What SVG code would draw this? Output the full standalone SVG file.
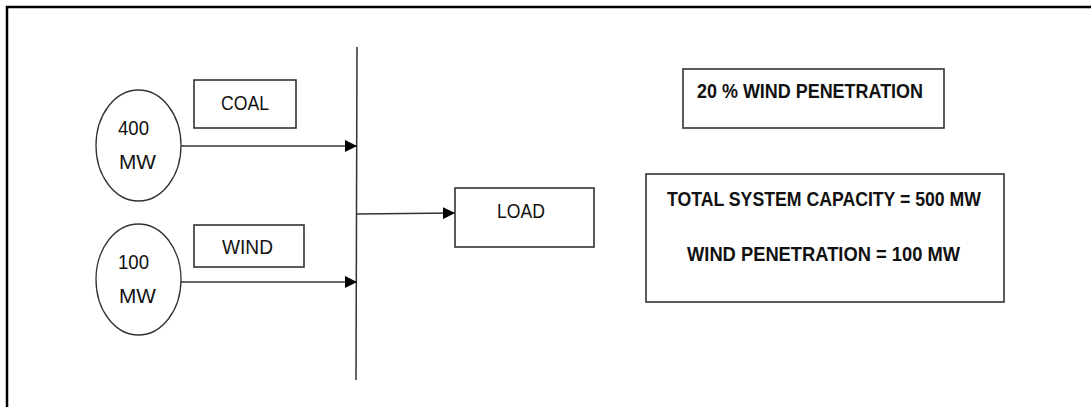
<svg xmlns="http://www.w3.org/2000/svg" width="1091" height="407" viewBox="0 0 1091 407">
<style>
.frame{fill:none;stroke:#000;stroke-width:2.5}
.box{fill:#fff;stroke:#333;stroke-width:1.6}
.circ{fill:#fff;stroke:#333;stroke-width:1.3}
.line{fill:none;stroke:#333;stroke-width:1.5}
.t{font-family:"Liberation Sans",Arial,sans-serif;font-size:20px;fill:#111}
.b{font-family:"Liberation Sans",Arial,sans-serif;font-size:20px;font-weight:bold;fill:#111}
</style>
<defs>
<marker id="arr" viewBox="0 0 10 10" refX="10" refY="5" markerWidth="12" markerHeight="12" markerUnits="userSpaceOnUse" orient="auto">
<path d="M0,0 L10,5 L0,10 z" fill="#000"/>
</marker>
</defs>
<rect width="1091" height="407" fill="#fff"/>
<path class="frame" d="M7,407 V7 H1091"/>
<g id="connectors">
<line class="line" x1="357" y1="47" x2="356" y2="380"/>
<line class="line" x1="181" y1="146" x2="357" y2="146" marker-end="url(#arr)"/>
<line class="line" x1="181" y1="282" x2="357" y2="282" marker-end="url(#arr)"/>
<line class="line" x1="357" y1="214" x2="455" y2="213" marker-end="url(#arr)"/>
</g>
<g id="gen400">
<ellipse class="circ" cx="138.5" cy="145.5" rx="42.5" ry="55.5"/>
<text class="t" x="118" y="135" textLength="31" lengthAdjust="spacingAndGlyphs">400</text>
<text class="t" x="119" y="169" textLength="37" lengthAdjust="spacingAndGlyphs">MW</text>
</g>
<g id="gen100">
<ellipse class="circ" cx="138.5" cy="279.5" rx="42.5" ry="55.5"/>
<text class="t" x="118" y="269" textLength="31" lengthAdjust="spacingAndGlyphs">100</text>
<text class="t" x="119" y="303" textLength="37" lengthAdjust="spacingAndGlyphs">MW</text>
</g>
<g id="coal">
<rect class="box" x="194" y="80" width="102" height="48"/>
<text class="t" x="221" y="110" textLength="48" lengthAdjust="spacingAndGlyphs">COAL</text>
</g>
<g id="wind">
<rect class="box" x="194" y="225" width="110" height="42"/>
<text class="t" x="222" y="254" textLength="51" lengthAdjust="spacingAndGlyphs">WIND</text>
</g>
<g id="load">
<rect class="box" x="455" y="188" width="139" height="59"/>
<text class="t" x="497" y="218" textLength="48" lengthAdjust="spacingAndGlyphs">LOAD</text>
</g>
<g id="penetration">
<rect class="box" x="683" y="69" width="261" height="59"/>
<text class="b" x="697" y="98" textLength="226" lengthAdjust="spacingAndGlyphs">20 % WIND PENETRATION</text>
</g>
<g id="capacity">
<rect class="box" x="646" y="174" width="358" height="128"/>
<text class="b" x="667" y="206" textLength="314" lengthAdjust="spacingAndGlyphs">TOTAL SYSTEM CAPACITY = 500 MW</text>
<text class="b" x="687" y="261" textLength="273" lengthAdjust="spacingAndGlyphs">WIND PENETRATION = 100 MW</text>
</g>
</svg>
